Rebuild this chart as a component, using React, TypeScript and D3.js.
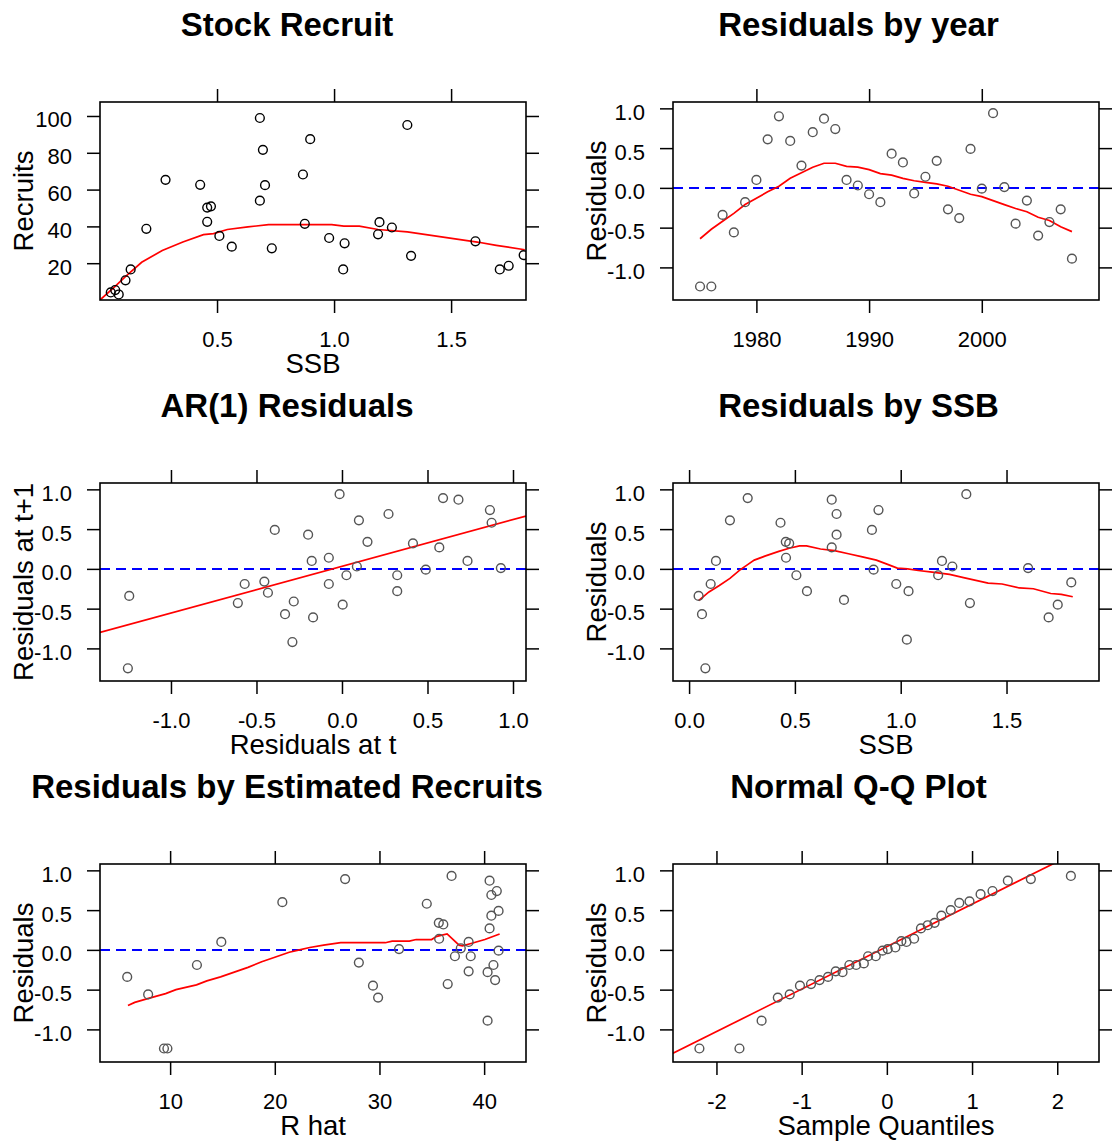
import { useEffect, useRef } from "react";
import * as d3 from "d3";

// Stock recruit scatter (SSB vs recruits) and its smoother
const srSSB = [0.046, 0.065, 0.08, 0.109, 0.131, 0.198, 0.28, 0.428, 0.458, 0.474, 0.458, 0.51, 0.563, 0.683, 0.696, 0.705, 0.683, 0.734, 0.867, 0.898, 0.875, 0.979, 1.045, 1.039, 1.188, 1.194, 1.247, 1.313, 1.329, 1.604, 1.708, 1.746, 1.81];
const srRecruits = [4.1, 5.4, 3.0, 10.7, 16.6, 38.7, 65.3, 62.6, 50.2, 50.9, 42.5, 34.8, 29.0, 98.9, 81.6, 62.4, 54.0, 28.1, 68.2, 87.4, 41.4, 33.7, 30.8, 16.6, 35.7, 42.3, 39.4, 95.1, 24.0, 31.9, 16.6, 18.6, 24.4];
const srFitSSB = [0, 0.06, 0.105, 0.178, 0.266, 0.354, 0.442, 0.485, 0.544, 0.632, 0.72, 0.822, 0.99, 1.042, 1.108, 1.188, 1.313, 1.466, 1.612, 1.693, 1.815];
const srFitRec = [0, 6.8, 12.3, 20.5, 26.9, 31.5, 35.5, 36.1, 38.3, 39.7, 41.0, 41.0, 41.0, 40.1, 40.1, 38.3, 37.0, 34.2, 31.5, 29.7, 27.3];

// Residuals by year
const years = [1975, 1976, 1977, 1978, 1979, 1980, 1981, 1982, 1983, 1984, 1985, 1986, 1987, 1988, 1989, 1990, 1991, 1992, 1993, 1994, 1995, 1996, 1997, 1998, 1999, 2000, 2001, 2002, 2003, 2004, 2005, 2006, 2007, 2008];
const yearResid = [-1.24, -1.24, -0.34, -0.56, -0.18, 0.10, 0.61, 0.90, 0.59, 0.28, 0.70, 0.87, 0.74, 0.10, 0.03, -0.08, -0.18, 0.43, 0.32, -0.07, 0.14, 0.34, -0.27, -0.38, 0.49, -0.01, 0.94, 0.01, -0.45, -0.16, -0.60, -0.43, -0.27, -0.89];
const yearFit = [-0.64, -0.52, -0.42, -0.32, -0.21, -0.13, -0.05, 0.02, 0.12, 0.19, 0.26, 0.31, 0.31, 0.27, 0.26, 0.23, 0.18, 0.16, 0.12, 0.09, 0.07, 0.05, 0.02, -0.03, -0.08, -0.11, -0.16, -0.21, -0.26, -0.30, -0.37, -0.41, -0.49, -0.55];

// AR(1): residual at t vs residual at t+1
const arT = [-1.244, -1.252, -0.609, -0.569, -0.454, -0.433, -0.393, -0.333, -0.282, -0.29, -0.198, -0.177, -0.169, -0.077, -0.077, -0.014, 0.004, 0.026, 0.087, 0.099, 0.149, 0.272, 0.323, 0.323, 0.415, 0.49, 0.569, 0.591, 0.681, 0.734, 0.865, 0.875, 0.929];
const arT1 = [-0.34, -1.25, -0.43, -0.19, -0.16, -0.30, 0.49, -0.57, -0.41, -0.92, 0.43, 0.10, -0.61, 0.14, -0.19, 0.94, -0.45, -0.08, 0.03, 0.61, 0.34, 0.69, -0.08, -0.28, 0.32, -0.01, 0.27, 0.89, 0.87, 0.10, 0.74, 0.58, 0.01];
const arLineX = [-1.415, 1.076];
const arLineY = [-0.8, 0.665];

// Residuals by SSB
const rsSSB = [0.045, 0.061, 0.077, 0.102, 0.127, 0.193, 0.277, 0.432, 0.457, 0.473, 0.458, 0.507, 0.557, 0.674, 0.697, 0.697, 0.674, 0.732, 0.864, 0.895, 0.872, 0.979, 1.037, 1.029, 1.177, 1.195, 1.244, 1.31, 1.327, 1.602, 1.699, 1.742, 1.806];
const rsResid = [-0.34, -0.57, -1.25, -0.19, 0.10, 0.61, 0.89, 0.58, 0.34, 0.32, 0.14, -0.08, -0.28, 0.87, 0.69, 0.43, 0.27, -0.39, 0.49, 0.74, -0.01, -0.19, -0.28, -0.89, -0.08, 0.10, 0.03, 0.94, -0.43, 0.01, -0.61, -0.45, -0.17];
const rsFitSSB = [0.045, 0.094, 0.143, 0.193, 0.242, 0.275, 0.308, 0.358, 0.424, 0.473, 0.522, 0.555, 0.621, 0.687, 0.753, 0.819, 0.885, 0.935, 0.984, 1.033, 1.083, 1.149, 1.231, 1.297, 1.413, 1.479, 1.56, 1.627, 1.709, 1.759, 1.813];
const rsFit = [-0.40, -0.29, -0.21, -0.12, -0.01, 0.05, 0.11, 0.16, 0.22, 0.26, 0.29, 0.29, 0.25, 0.23, 0.19, 0.15, 0.11, 0.06, 0.01, 0.0, -0.02, -0.04, -0.07, -0.11, -0.18, -0.19, -0.24, -0.25, -0.31, -0.32, -0.35];

// Residuals by estimated recruits
const rHat = [5.9, 7.9, 9.41, 9.74, 12.56, 14.89, 20.72, 26.72, 28.03, 29.38, 29.87, 31.87, 34.52, 35.67, 36.1, 35.7, 36.52, 36.89, 37.21, 37.77, 38.52, 38.72, 38.52, 40.33, 40.33, 40.52, 40.69, 40.69, 40.52, 40.89, 41.05, 41.21, 41.38, 41.38];
const rHatResid = [-0.34, -0.56, -1.24, -1.24, -0.19, 0.10, 0.60, 0.89, -0.16, -0.45, -0.60, 0.01, 0.58, 0.34, 0.32, 0.14, -0.43, 0.93, -0.08, 0.02, 0.10, -0.08, -0.27, -0.28, -0.89, 0.87, 0.69, 0.43, 0.27, -0.19, -0.38, 0.74, 0.49, -0.01];
const rHatFitX = [5.97, 6.62, 7.93, 9.57, 10.56, 12.52, 13.51, 14.82, 16.13, 17.44, 18.75, 20.07, 21.38, 22.36, 23.34, 24.66, 26.3, 28.26, 30.56, 31.21, 32.85, 33.51, 34.98, 35.48, 36.46, 37.61, 37.93, 38.75, 40.07, 41.48];
const rHatFitY = [-0.70, -0.66, -0.61, -0.55, -0.50, -0.44, -0.39, -0.34, -0.28, -0.22, -0.15, -0.09, -0.03, 0.0, 0.03, 0.06, 0.09, 0.09, 0.09, 0.11, 0.11, 0.13, 0.13, 0.17, 0.20, 0.06, 0.05, 0.08, 0.13, 0.20];

// Normal Q-Q
const qqTheo = [-2.2, -1.73, -1.47, -1.28, -1.14, -1.02, -0.89, -0.79, -0.69, -0.6, -0.52, -0.44, -0.36, -0.27, -0.22, -0.13, -0.05, 0.01, 0.1, 0.17, 0.23, 0.32, 0.4, 0.48, 0.56, 0.64, 0.75, 0.85, 0.97, 1.1, 1.24, 1.42, 1.69, 2.16];
const qqResid = [-1.24, -1.24, -0.89, -0.60, -0.56, -0.45, -0.43, -0.38, -0.34, -0.27, -0.28, -0.19, -0.19, -0.17, -0.08, -0.08, -0.01, 0.01, 0.03, 0.11, 0.10, 0.14, 0.27, 0.31, 0.34, 0.43, 0.50, 0.59, 0.61, 0.70, 0.74, 0.87, 0.89, 0.93];
const qqLineX = [-2.51, 2.49];
const qqLineY = [-1.30, 1.37];

const FONT = "'Liberation Sans', Arial, sans-serif";
const COLS = [100, 673];
const ROWS = [102, 483, 864];
const TITLE_X = [287, 858.5];
const BOX_W = 426;
const BOX_H = 198;
const TICK = 13;
const RESID_Y: [number, number] = [-1.41, 1.08];
const RESID_TICKS = [-1.0, -0.5, 0.0, 0.5, 1.0];

const fmt1 = (d: number) => d.toFixed(1);
const fmt0 = (d: number) => String(d);

type Panel = {
  title: string;
  xlab: string;
  ylab: string;
  xDomain: [number, number];
  yDomain: [number, number];
  xTicks: number[];
  yTicks: number[];
  xFmt: (d: number) => string;
  yFmt: (d: number) => string;
  px: number[];
  py: number[];
  pointColor: string;
  lineX?: number[];
  lineY?: number[];
  zero: boolean;
};

const panels: Panel[] = [
  {
    title: "Stock Recruit", xlab: "SSB", ylab: "Recruits",
    xDomain: [0, 1.82], yDomain: [0, 107.6],
    xTicks: [0.5, 1.0, 1.5], yTicks: [20, 40, 60, 80, 100],
    xFmt: fmt1, yFmt: fmt0,
    px: srSSB, py: srRecruits, pointColor: "#000000",
    lineX: srFitSSB, lineY: srFitRec, zero: false,
  },
  {
    title: "Residuals by year", xlab: "", ylab: "Residuals",
    xDomain: [1972.6, 2010.4], yDomain: RESID_Y,
    xTicks: [1980, 1990, 2000], yTicks: RESID_TICKS,
    xFmt: fmt0, yFmt: fmt1,
    px: years, py: yearResid, pointColor: "#555555",
    lineX: years, lineY: yearFit, zero: true,
  },
  {
    title: "AR(1) Residuals", xlab: "Residuals at t", ylab: "Residuals at t+1",
    xDomain: [-1.415, 1.076], yDomain: RESID_Y,
    xTicks: [-1.0, -0.5, 0.0, 0.5, 1.0], yTicks: RESID_TICKS,
    xFmt: fmt1, yFmt: fmt1,
    px: arT, py: arT1, pointColor: "#555555",
    lineX: arLineX, lineY: arLineY, zero: true,
  },
  {
    title: "Residuals by SSB", xlab: "SSB", ylab: "Residuals",
    xDomain: [-0.076, 1.937], yDomain: RESID_Y,
    xTicks: [0.0, 0.5, 1.0, 1.5], yTicks: RESID_TICKS,
    xFmt: fmt1, yFmt: fmt1,
    px: rsSSB, py: rsResid, pointColor: "#555555",
    lineX: rsFitSSB, lineY: rsFit, zero: true,
  },
  {
    title: "Residuals by Estimated Recruits", xlab: "R hat", ylab: "Residuals",
    xDomain: [3.3, 44.0], yDomain: RESID_Y,
    xTicks: [10, 20, 30, 40], yTicks: RESID_TICKS,
    xFmt: fmt0, yFmt: fmt1,
    px: rHat, py: rHatResid, pointColor: "#555555",
    lineX: rHatFitX, lineY: rHatFitY, zero: true,
  },
  {
    title: "Normal Q-Q Plot", xlab: "Sample Quantiles", ylab: "Residuals",
    xDomain: [-2.51, 2.49], yDomain: RESID_Y,
    xTicks: [-2, -1, 0, 1, 2], yTicks: RESID_TICKS,
    xFmt: fmt0, yFmt: fmt1,
    px: qqTheo, py: qqResid, pointColor: "#555555",
    lineX: qqLineX, lineY: qqLineY, zero: false,
  },
];

function styleAxis(g: d3.Selection<SVGGElement, unknown, null, undefined>) {
  g.select(".domain").remove();
  g.selectAll(".tick line").attr("stroke", "#000").attr("stroke-width", 1.5);
  g.selectAll(".tick text")
    .attr("fill", "#000")
    .attr("font-size", 22)
    .attr("font-family", FONT);
}

export default function App() {
  const ref = useRef<SVGSVGElement>(null);

  useEffect(() => {
    const svg = d3.select(ref.current);
    svg.selectAll("*").remove();

    panels.forEach((p, i) => {
      const col = i % 2;
      const row = Math.floor(i / 2);
      const x0 = COLS[col];
      const y0 = ROWS[row];
      const x = d3.scaleLinear().domain(p.xDomain).range([x0, x0 + BOX_W]);
      const y = d3.scaleLinear().domain(p.yDomain).range([y0 + BOX_H, y0]);

      const g = svg.append("g");

      g.append("text")
        .attr("x", TITLE_X[col])
        .attr("y", y0 - 66)
        .attr("text-anchor", "middle")
        .attr("font-family", FONT)
        .attr("font-weight", "bold")
        .attr("font-size", 33)
        .text(p.title);

      g.append("clipPath")
        .attr("id", `clip${i}`)
        .append("rect")
        .attr("x", x0)
        .attr("y", y0)
        .attr("width", BOX_W)
        .attr("height", BOX_H);

      const inner = g.append("g").attr("clip-path", `url(#clip${i})`);

      if (p.zero) {
        inner.append("line")
          .attr("x1", x0).attr("x2", x0 + BOX_W)
          .attr("y1", y(0)).attr("y2", y(0))
          .attr("stroke", "#0000ff")
          .attr("stroke-width", 2)
          .attr("stroke-dasharray", "10,6");
      }

      if (p.lineX && p.lineY) {
        const pts = p.lineX.map((v, k) => [v, p.lineY![k]] as [number, number]);
        const line = d3.line<[number, number]>().x((d) => x(d[0])).y((d) => y(d[1]));
        inner.append("path")
          .attr("d", line(pts))
          .attr("fill", "none")
          .attr("stroke", "#ff0000")
          .attr("stroke-width", 1.7);
      }

      inner.selectAll("circle")
        .data(p.px.map((v, k) => [v, p.py[k]]))
        .enter()
        .append("circle")
        .attr("cx", (d) => x(d[0]))
        .attr("cy", (d) => y(d[1]))
        .attr("r", 4.4)
        .attr("fill", "none")
        .attr("stroke", p.pointColor)
        .attr("stroke-width", 1.4);

      g.append("rect")
        .attr("x", x0).attr("y", y0)
        .attr("width", BOX_W).attr("height", BOX_H)
        .attr("fill", "none")
        .attr("stroke", "#000")
        .attr("stroke-width", 1.6);

      const bottom = g.append("g")
        .attr("transform", `translate(0,${y0 + BOX_H})`)
        .call(d3.axisBottom(x).tickValues(p.xTicks).tickSize(TICK).tickPadding(18.5).tickFormat((d) => p.xFmt(+d)));
      styleAxis(bottom);

      const top = g.append("g")
        .attr("transform", `translate(0,${y0})`)
        .call(d3.axisTop(x).tickValues(p.xTicks).tickSize(TICK).tickFormat(() => ""));
      styleAxis(top);

      const left = g.append("g")
        .attr("transform", `translate(${x0},0)`)
        .call(d3.axisLeft(y).tickValues(p.yTicks).tickSize(TICK).tickPadding(15).tickFormat((d) => p.yFmt(+d)));
      styleAxis(left);
      left.selectAll(".tick text").attr("dy", "0.5em");

      const right = g.append("g")
        .attr("transform", `translate(${x0 + BOX_W},0)`)
        .call(d3.axisRight(y).tickValues(p.yTicks).tickSize(TICK).tickFormat(() => ""));
      styleAxis(right);

      if (p.xlab) {
        g.append("text")
          .attr("x", x0 + BOX_W / 2)
          .attr("y", y0 + BOX_H + 73)
          .attr("text-anchor", "middle")
          .attr("font-family", FONT)
          .attr("font-size", 27.5)
          .text(p.xlab);
      }

      g.append("text")
        .attr("transform", `translate(${x0 - 67},${y0 + BOX_H / 2}) rotate(-90)`)
        .attr("text-anchor", "middle")
        .attr("font-family", FONT)
        .attr("font-size", 27.5)
        .text(p.ylab);
    });
  }, []);

  return (
    <svg
      ref={ref}
      width={1116}
      height={1142}
      style={{ position: "absolute", left: 0, top: 0, background: "#fff" }}
    />
  );
}
